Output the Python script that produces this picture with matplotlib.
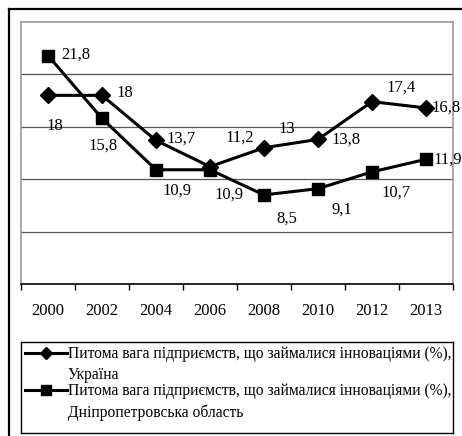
import matplotlib
matplotlib.use("Agg")
import matplotlib.pyplot as plt
from matplotlib.lines import Line2D

plt.rcParams['font.family'] = ['Liberation Serif', 'DejaVu Serif']

years = ['2000', '2002', '2004', '2006', '2008', '2010', '2012', '2013']
ukraine = [18, 18, 13.7, 11.2, 13, 13.8, 17.4, 16.8]
dnipro = [21.8, 15.8, 10.9, 10.9, 8.5, 9.1, 10.7, 11.9]
label_ua = 'Питома вага підприємств, що займалися інноваціями (%),\nУкраїна'
label_dn = 'Питома вага підприємств, що займалися інноваціями (%),\nДніпропетровська область'

# label offsets in pixels (dx, dy), dy up
off_ua = [(7, -31), (23, 2), (25, 2), (30, 29), (23, 19), (28, 0), (29, 14), (20, 0)]
off_dn = [(28, 1), (1, -27), (21, -21), (19, -25), (23, -24), (24, -21), (24, -21), (22, 0)]

W, H = 462, 436
fig = plt.figure(figsize=(W / 100, H / 100), dpi=100)

# outer frame (cut off on right and bottom)
fig.add_artist(Line2D([8.5 / W, 8.5 / W], [0, 1 - 9 / H], color='black', lw=1.6))
fig.add_artist(Line2D([8.5 / W, 1], [1 - 9 / H, 1 - 9 / H], color='black', lw=1.6))

ax = fig.add_axes([21 / W, 1 - 284 / H, (453 - 21) / W, (284 - 22) / H])
x = [i + 0.5 for i in range(len(years))]

for y in [5, 10, 15, 20]:
    ax.axhline(y, color='#555555', lw=0.9, zorder=1)

ax.plot(x, ukraine, color='black', lw=2.2, marker='D', ms=8.5, zorder=3)
ax.plot(x, dnipro, color='black', lw=2.2, marker='s', ms=9, zorder=3)

k = 0.72
for xi, v, (dx, dy) in zip(x, ukraine, off_ua):
    ax.annotate(f'{v:g}'.replace('.', ','), (xi, v), xytext=(dx * k, dy * k),
                textcoords='offset points', ha='center', va='center', fontsize=12)
for xi, v, (dx, dy) in zip(x, dnipro, off_dn):
    ax.annotate(f'{v:g}'.replace('.', ','), (xi, v), xytext=(dx * k, dy * k),
                textcoords='offset points', ha='center', va='center', fontsize=12,
                annotation_clip=False)

ax.set_xlim(0, 8)
ax.set_ylim(0, 25)
ax.set_yticks([])
ax.set_xticks(x)
ax.set_xticklabels(years, fontsize=12)
ax.set_xticks(range(9), minor=True)
ax.tick_params(axis='x', which='major', length=0, pad=14)
ax.tick_params(axis='x', which='minor', length=4, width=1, direction='out')
for s in ['top', 'left', 'right']:
    ax.spines[s].set_color('#9a9a9a')
    ax.spines[s].set_linewidth(1.2)
ax.spines['bottom'].set_color('black')
ax.spines['bottom'].set_linewidth(1.2)

# legend box drawn by hand so handles line up with the first text line
lg = fig.add_axes([21 / W, 1 - 433 / H, (453 - 21) / W, (433 - 342) / H])
lg.set_xlim(0, 453 - 21)
lg.set_ylim(433, 342)
lg.set_xticks([])
lg.set_yticks([])
for s in lg.spines.values():
    s.set_linewidth(1.0)
    s.set_color('black')
for ly, mk, ms, lab in [(353, 'D', 6, label_ua), (390, 's', 6.5, label_dn)]:
    lg.plot([4, 46], [ly, ly], color='black', lw=2.2)
    lg.plot([25], [ly], color='black', marker=mk, ms=ms, lw=0)
    lg.text(47, ly - 7, lab, fontsize=11.2, va='top', ha='left', linespacing=1.45)

fig.savefig('out.png', dpi=100)
